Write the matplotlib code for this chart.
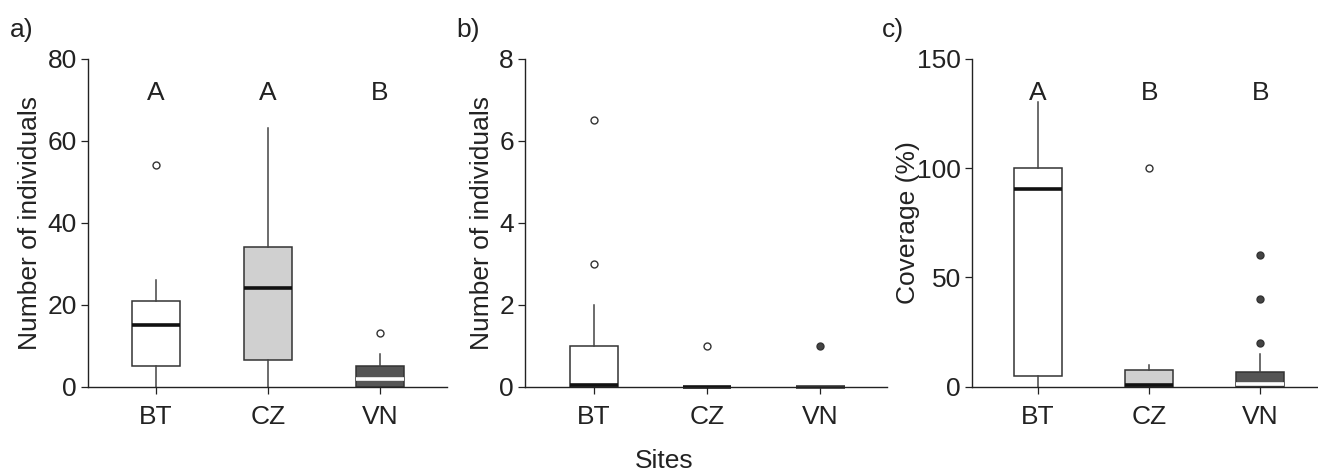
import matplotlib
matplotlib.use("Agg")
import matplotlib.pyplot as plt

plt.rcParams['font.family'] = ['Liberation Sans', 'DejaVu Sans']

sites = ["BT", "CZ", "VN"]
fills = ["#ffffff", "#d0d0d0", "#555555"]

# Panel a) Number of individuals
a_q1 = [5, 6.5, 0]
a_med = [15, 24, 2]
a_q3 = [21, 34, 5]
a_lo = [0, 0, 0]
a_hi = [26, 63, 8]
a_fliers = [[54], [], [13]]
a_letters = ["A", "A", "B"]

# Panel b) Number of individuals
b_q1 = [0, 0, 0]
b_med = [0.04, 0, 0]
b_q3 = [1, 0, 0]
b_lo = [0, 0, 0]
b_hi = [2, 0, 0]
b_fliers = [[3, 6.5], [1], [1]]

# Panel c) Coverage (%)
c_q1 = [5, 0, 0]
c_med = [90.5, 0.6, 1.2]
c_q3 = [100, 7.5, 6.5]
c_lo = [0, 0, 0]
c_hi = [130, 10, 15]
c_fliers = [[], [100], [20, 40, 60]]
c_letters = ["A", "B", "B"]

flier_faces = [["white", "white", "white"],
               ["white", "white", "#444444"],
               ["white", "white", "#444444"]]
median_colors = [["#111111", "#111111", "#ffffff"],
                 ["#111111", "#111111", "#333333"],
                 ["#111111", "#111111", "#ffffff"]]

W, H = 1318, 472
fig = plt.figure(figsize=(W / 100, H / 100), dpi=100)

FS = 19

def make_axes(left_px, right_px, top_px=58.7, bottom_px=386.7):
    return fig.add_axes([left_px / W, (H - bottom_px) / H,
                         (right_px - left_px) / W, (bottom_px - top_px) / H])

def panel(ax, q1, med, q3, lo, hi, fliers, faces, meds, ymax, yticks, xlim,
          ylabel, letters=None, letter_y=None):
    for i in range(3):
        stats = [dict(q1=q1[i], med=med[i], q3=q3[i], whislo=lo[i],
                      whishi=hi[i], fliers=fliers[i])]
        ax.bxp(stats, positions=[i + 1], widths=0.43, patch_artist=True,
               showcaps=False,
               boxprops=dict(facecolor=fills[i], edgecolor="#333333", linewidth=1.1),
               medianprops=dict(color=meds[i], linewidth=2.6),
               whiskerprops=dict(color="#444444", linewidth=1.1),
               flierprops=dict(marker="o", markersize=5, markerfacecolor=faces[i],
                               markeredgecolor="#333333", markeredgewidth=1.0),
               manage_ticks=False)
    for art in ax.get_children():
        try:
            art.set_clip_on(False)
        except Exception:
            pass
    ax.set_ylim(0, ymax)
    ax.set_xlim(*xlim)
    ax.set_yticks(yticks)
    ax.set_xticks([1, 2, 3])
    ax.set_xticklabels(sites)
    ax.tick_params(axis="both", labelsize=FS, colors="#222222", direction="out",
                   length=5, width=0.9, pad=3)
    ax.tick_params(axis="x", pad=8)
    ax.spines["top"].set_visible(False)
    ax.spines["right"].set_visible(False)
    for s in ("left", "bottom"):
        ax.spines[s].set_color("#222222")
        ax.spines[s].set_linewidth(1.0)
    ax.set_ylabel(ylabel, fontsize=FS, color="#222222", labelpad=4)
    if letters:
        for i, L in enumerate(letters):
            ax.text(i + 1, letter_y, L, ha="center", va="center",
                    fontsize=FS, color="#222222")

ax_a = make_axes(88, 447)
panel(ax_a, a_q1, a_med, a_q3, a_lo, a_hi, a_fliers, flier_faces[0],
      median_colors[0], 80, [0, 20, 40, 60, 80], (0.393, 3.6),
      "Number of individuals", a_letters, 71.7)

ax_b = make_axes(525, 887)
panel(ax_b, b_q1, b_med, b_q3, b_lo, b_hi, b_fliers, flier_faces[1],
      median_colors[1], 8, [0, 2, 4, 6, 8], (0.39, 3.59),
      "Number of individuals")

ax_c = make_axes(972, 1318)
panel(ax_c, c_q1, c_med, c_q3, c_lo, c_hi, c_fliers, flier_faces[2],
      median_colors[2], 150, [0, 50, 100, 150], (0.405, 3.52),
      "Coverage (%)", c_letters, 134.3)
ax_c.yaxis.labelpad = -2

fig.text(10 / W, 1 - 30 / H, "a)", fontsize=FS, color="#222222", va="center")
fig.text(456 / W, 1 - 30 / H, "b)", fontsize=FS, color="#222222", va="center")
fig.text(882 / W, 1 - 30 / H, "c)", fontsize=FS, color="#222222", va="center")
fig.text(664 / W, 1 - 461 / H, "Sites", fontsize=FS, color="#222222",
         ha="center", va="center")

fig.savefig("out.png", dpi=100, facecolor="white")
